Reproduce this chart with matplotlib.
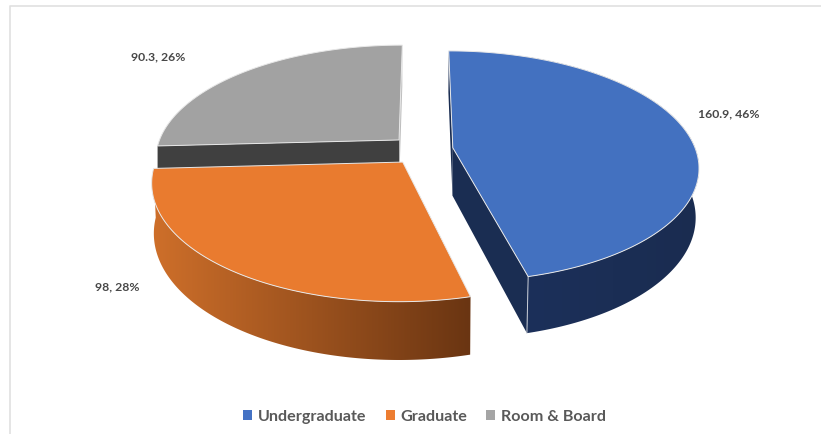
import numpy as np
import matplotlib
matplotlib.use("Agg")
import matplotlib.pyplot as plt
from matplotlib.patches import Polygon, Patch
from matplotlib.colors import LinearSegmentedColormap

categories = ["Undergraduate", "Graduate", "Room & Board"]
values = [160.9, 98, 90.3]
top_colors = ["#4371C0", "#E97B2F", "#A2A2A2"]
legend_colors = ["#4472C4", "#ED7D31", "#A5A5A5"]

# layout of the projected pie (pixel space)
CX, CY, RX, RY, K, DEPTH = 423, 150, 243, 113, 0.16, 48
offsets = [(0.123, 0.02), (-0.082, -0.105), (-0.10, 0.09)]
converge = [0.012, 0.008, 0.0]
label_xy = [(728.5, 114), (117.5, 287), (158.5, 57)]

plt.rcParams["font.family"] = ["Lato", "DejaVu Sans"]
fig = plt.figure(figsize=(8.21, 4.34), dpi=100)
ax = fig.add_axes([0, 0, 1, 1])
ax.set_xlim(0, 821)
ax.set_ylim(434, 0)
ax.axis("off")

fractions = np.array(values) / sum(values)
edges = np.concatenate([[0], np.cumsum(fractions)]) * 2 * np.pi


def project(i, x, y, z=0.0):
    w = 1 + K * y
    return (CX + RX * x / w * (1 - converge[i] * z), CY - RY * y / w + DEPTH * z / w)


def arc(i, t0, t1, z=0.0, n=200):
    ox, oy = offsets[i]
    t = np.linspace(t0, t1, n)
    sx, sy = project(i, ox + np.sin(t), oy + np.cos(t), z)
    return np.column_stack([sx, sy])


def apex(i, z=0.0):
    sx, sy = project(i, offsets[i][0], offsets[i][1], z)
    return np.array([[sx, sy]])


def gradient_fill(poly, x0, x1, c0, c1, zorder):
    cmap = LinearSegmentedColormap.from_list("g", [c0, c1])
    ys = poly[:, 1]
    im = ax.imshow(np.linspace(0, 1, 256)[None, :], cmap=cmap, aspect="auto",
                   extent=[x0, x1, ys.max(), ys.min()], zorder=zorder,
                   interpolation="bilinear")
    patch = Polygon(poly, closed=True, facecolor="none", edgecolor="none",
                    transform=ax.transData)
    ax.add_patch(patch)
    im.set_clip_path(patch)


def rim_poly(i, t0, t1):
    return np.vstack([arc(i, t0, t1), arc(i, t0, t1, 1.0)[::-1]])


def wall_poly(i, t):
    a, b = arc(i, t, t, 0, 2)[:1], arc(i, t, t, 1, 2)[:1]
    return np.vstack([apex(i), a, b, apex(i, 1.0)])


def top_poly(i, t0, t1):
    return np.vstack([apex(i), arc(i, t0, t1)])


EDGE = "#E8E8E8"

# Room & Board (back slice)
t0, t1 = edges[2], edges[3]
ax.add_patch(Polygon(wall_poly(2, t1), facecolor="#BDBDBD", edgecolor="none", zorder=1))
ax.add_patch(Polygon(wall_poly(2, t0), facecolor="#404040", edgecolor="none", zorder=2))
ax.add_patch(Polygon(top_poly(2, t0, t1), facecolor=top_colors[2], edgecolor=EDGE, lw=0.7, zorder=3))

# Graduate
t0, t1 = edges[1], edges[2]
gradient_fill(rim_poly(1, t0, t1), 153, 471, "#CE6F2A", "#6A3512", 4)
ax.add_patch(Polygon(top_poly(1, t0, t1), facecolor=top_colors[1], edgecolor=EDGE, lw=0.7, zorder=5))

# Undergraduate
t0, t1 = edges[0], edges[1]
ax.add_patch(Polygon(wall_poly(0, t0), facecolor="#1A2D52", edgecolor="none", zorder=6))
ax.add_patch(Polygon(wall_poly(0, t1), facecolor="#1A2D52", edgecolor="none", zorder=7))
gradient_fill(rim_poly(0, t0, t1), 527, 699, "#1C305A", "#1A2C50", 6.5)
corner = arc(0, t1, t1, 0, 2)[:1]
corner_low = arc(0, t1, t1, 1, 2)[:1]
ax.plot([corner[0, 0], corner_low[0, 0]], [corner[0, 1], corner_low[0, 1]],
        color="#C8CDD6", lw=0.7, zorder=7.5)
ax.add_patch(Polygon(top_poly(0, t0, t1), facecolor=top_colors[0], edgecolor=EDGE, lw=0.7, zorder=8))

# data labels
for v, f, (lx, ly) in zip(values, fractions, label_xy):
    ax.text(lx, ly, f"{v:g}, {f * 100:.0f}%", ha="center", va="center",
            fontsize=8.8, fontweight="bold", color="#484848", zorder=10)

# chart frame
ax.plot([9.5, 9.5, 821], [434, 5.5, 5.5], color="#E0E0E0", lw=1.2, zorder=0, clip_on=False)

# legend
handles = [Patch(facecolor=c, edgecolor="none", label=n) for c, n in zip(legend_colors, categories)]
ax.legend(handles=handles, loc="center", bbox_to_anchor=(424.5 / 821, 1 - 417 / 434),
          ncol=3, frameon=False, handlelength=0.56, handleheight=0.56, handletextpad=0.33,
          columnspacing=1.2, borderpad=0, borderaxespad=0,
          prop={"size": 11.6, "weight": "bold"}, labelcolor="#595959")

fig.savefig("out.png", dpi=100)
